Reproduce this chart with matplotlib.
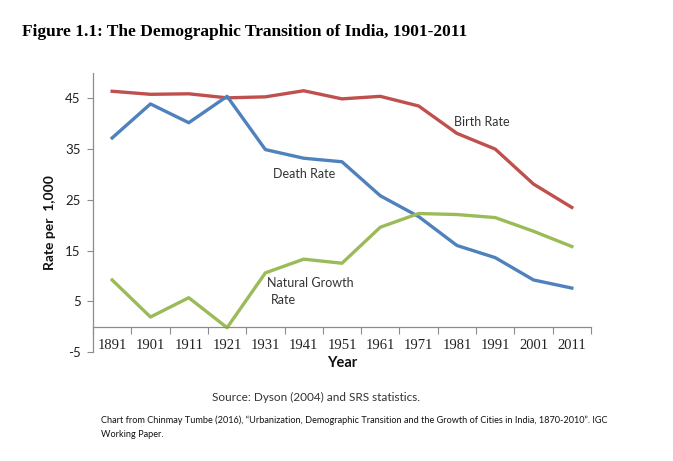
import matplotlib
matplotlib.use('Agg')
from matplotlib import pyplot as plt
import numpy as np

# data (rates per 1,000)
years = ['1891', '1901', '1911', '1921', '1931', '1941', '1951',
         '1961', '1971', '1981', '1991', '2001', '2011']
birth_rate = [46.4, 45.8, 45.9, 45.1, 45.3, 46.5, 44.9, 45.4, 43.5, 38.1, 35.0, 28.1, 23.5]
death_rate = [37.2, 43.9, 40.2, 45.4, 34.9, 33.2, 32.5, 25.8, 21.7, 16.0, 13.6, 9.2, 7.6]
growth_rate = [9.2, 1.9, 5.7, -0.2, 10.6, 13.3, 12.5, 19.6, 22.3, 22.1, 21.5, 18.8, 15.8]
y_ticks = [-5, 5, 15, 25, 35, 45]

red = '#C0504D'
blue = '#4F81BD'
green = '#9BBB59'
axis_col = '#8C8C8C'
sans = 'Lato'

fig = plt.figure(figsize=(6.73, 4.61), dpi=100)
ax = fig.add_axes([93 / 673, 1 - 352 / 461, 498 / 673, 279 / 461])

x = np.arange(len(years))
ax.plot(x, birth_rate, color=red, lw=2.4, solid_joinstyle='round')
ax.plot(x, death_rate, color=blue, lw=2.4, solid_joinstyle='round')
ax.plot(x, growth_rate, color=green, lw=2.4, solid_joinstyle='round')

ax.set_xlim(-0.5, len(years) - 0.5)
ax.set_ylim(-5, 50)

# spines like excel: y axis on left, category axis crossing at 0
for s in ['top', 'right']:
    ax.spines[s].set_visible(False)
ax.spines['bottom'].set_position(('data', 0))
ax.spines['bottom'].set_color(axis_col)
ax.spines['left'].set_color(axis_col)
ax.spines['bottom'].set_linewidth(0.9)
ax.spines['left'].set_linewidth(0.9)

ax.set_yticks(y_ticks)
ax.set_yticklabels([str(v) for v in y_ticks], fontsize=9.5, family=sans, color='#222222')
ax.tick_params(axis='y', length=4, color=axis_col, pad=5)

# category ticks between the years, labels below the plot
ax.set_xticks(np.arange(len(years) + 1) - 0.5)
ax.set_xticklabels([])
ax.tick_params(axis='x', which='major', length=5, color=axis_col, direction='out')
for i, yr in enumerate(years):
    ax.text(i, -3.7, yr, ha='center', va='center', fontsize=10.5,
            family='Liberation Serif', color='#222222')

ax.text(-0.5 - 1.12, 20.5, 'Rate per  1,000', rotation=90, ha='center', va='center',
        fontsize=10, fontweight='bold', family=sans, color='#111111')
fig.text(342 / 673, 1 - 363 / 461, 'Year', ha='center', va='center',
         fontsize=10.5, fontweight='bold', family=sans, color='#111111')

# line labels
ax.text(8.93, 40.4, 'Birth Rate', fontsize=9, family=sans, va='center', color='#333333')
ax.text(4.2, 30.0, 'Death Rate', fontsize=9, family=sans, va='center', color='#333333')
ax.text(4.05, 8.6, 'Natural Growth', fontsize=9, family=sans, va='center', color='#333333')
ax.text(4.15, 5.3, 'Rate', fontsize=9, family=sans, va='center', color='#333333')

fig.text(22 / 673, 1 - 32 / 461, 'Figure 1.1: The Demographic Transition of India, 1901-2011',
         fontsize=12.5, fontweight='bold', family='Liberation Serif', va='center')
fig.text(316 / 673, 1 - 397 / 461, 'Source: Dyson (2004) and SRS statistics.',
         fontsize=8.5, family=sans, ha='center', va='center', color='#333333')
fig.text(101 / 673, 1 - 420 / 461,
         'Chart from Chinmay Tumbe (2016), \u201cUrbanization, Demographic Transition and the Growth of Cities in India, 1870-2010\u201d. IGC',
         fontsize=6.6, family=sans, va='center', color='#111111')
fig.text(101 / 673, 1 - 434 / 461, 'Working Paper.',
         fontsize=6.6, family=sans, va='center', color='#111111')

plt.savefig('out.png', dpi=100)
